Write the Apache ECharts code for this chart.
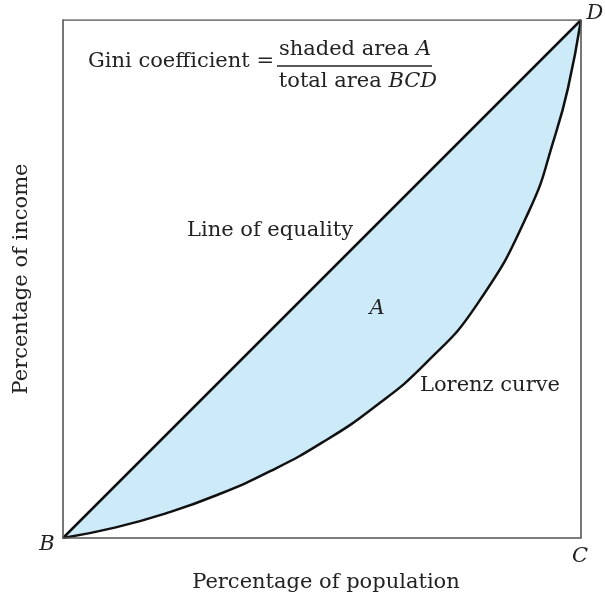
<!DOCTYPE html>
<html>
<head>
<meta charset="utf-8">
<script src="https://cdn.jsdelivr.net/npm/echarts@6/dist/echarts.min.js"></script>
<style>html,body{margin:0;padding:0;background:#fff;}#c{width:605px;height:598px;}</style>
</head>
<body>
<div id="c"></div>
<script>
// Percentage of population (x) and percentage of income (y)
var equalityX = [0, 100];
var equalityY = [0, 100];
var lorenzX = [0, 10, 20, 30, 40, 50, 60, 70, 80, 90, 95, 97.5, 100];
var lorenzY = [0, 2, 4.8, 8.4, 12.9, 18.4, 25.2, 33.7, 45.2, 63.2, 77.7, 86.9, 100];
var xAxisTitle = 'Percentage of population';
var yAxisTitle = 'Percentage of income';

var FONT = '"DejaVu Serif", "Liberation Serif", serif';
var FS = 21;
var INK = '#222';
var chart = echarts.init(document.getElementById('c'), null, {renderer: 'canvas'});

function pairs(xs, ys) { return xs.map(function (x, i) { return [x, ys[i]]; }); }
function label(x, y, text, italic, extra) {
  var st = {text: text, fontFamily: FONT, fontSize: FS, fill: INK, align: 'center', verticalAlign: 'middle'};
  if (italic) st.fontStyle = 'italic';
  if (extra) for (var k in extra) st[k] = extra[k];
  return {type: 'text', x: x, y: y, z: 100, style: st};
}
var richI = {i: {fontStyle: 'italic', fontFamily: FONT, fontSize: FS, fill: INK}};

chart.setOption({
  animation: false,
  backgroundColor: '#fff',
  grid: {left: 63, right: 24, top: 20, bottom: 60, show: false, containLabel: false, outerBoundsMode: 'none'},
  xAxis: {
    type: 'value', min: 0, max: 100, z: 10,
    name: xAxisTitle, nameLocation: 'middle', nameGap: 34,
    nameTextStyle: {fontFamily: FONT, fontSize: FS, color: INK, padding: [0, 0, 0, 8]},
    axisLine: {show: true, lineStyle: {color: '#555', width: 1.6}},
    axisTick: {show: false}, axisLabel: {show: false}, splitLine: {show: false}
  },
  yAxis: {
    type: 'value', min: 0, max: 100, z: 10,
    name: yAxisTitle, nameLocation: 'middle', nameGap: 31,
    nameTextStyle: {fontFamily: FONT, fontSize: FS, color: INK},
    axisLine: {show: true, lineStyle: {color: '#555', width: 1.6}},
    axisTick: {show: false}, axisLabel: {show: false}, splitLine: {show: false}
  },
  series: [
    {
      type: 'line', name: 'Line of equality', data: pairs(equalityX, equalityY),
      symbol: 'none', lineStyle: {color: '#111', width: 2.5},
      areaStyle: {color: '#cdeaf9', opacity: 1}, z: 2
    },
    {
      type: 'line', name: 'Lorenz fill mask', data: pairs(lorenzX, lorenzY),
      symbol: 'none', smooth: 0.5, lineStyle: {width: 0},
      areaStyle: {color: '#ffffff', opacity: 1}, z: 3
    },
    {
      type: 'line', name: 'Lorenz curve', data: pairs(lorenzX, lorenzY),
      symbol: 'none', smooth: 0.5, lineStyle: {color: '#111', width: 2.5}, z: 4
    },
    {
      type: 'line', name: 'frame', data: [[0, 100], [100, 100], [100, 0]],
      symbol: 'none', lineStyle: {color: '#555', width: 1.6}, z: 5, silent: true
    }
  ],
  graphic: [
    {type: 'text', left: 88, top: 51, z: 100, style: {text: 'Gini coefficient =', fontFamily: FONT, fontSize: FS, fill: INK}},
    label(355, 50, 'shaded area {i|A}', false, {rich: richI}),
    {type: 'line', z: 100, shape: {x1: 277, y1: 66, x2: 432, y2: 66}, style: {stroke: INK, lineWidth: 1.3}},
    label(358, 82, 'total area {i|BCD}', false, {rich: richI}),
    label(270, 231, 'Line of equality'),
    label(377, 309, 'A', true),
    label(490, 386, 'Lorenz curve'),
    label(47, 545, 'B', true),
    label(580, 557, 'C', true),
    label(595, 14, 'D', true)
  ]
});
</script>
</body>
</html>
